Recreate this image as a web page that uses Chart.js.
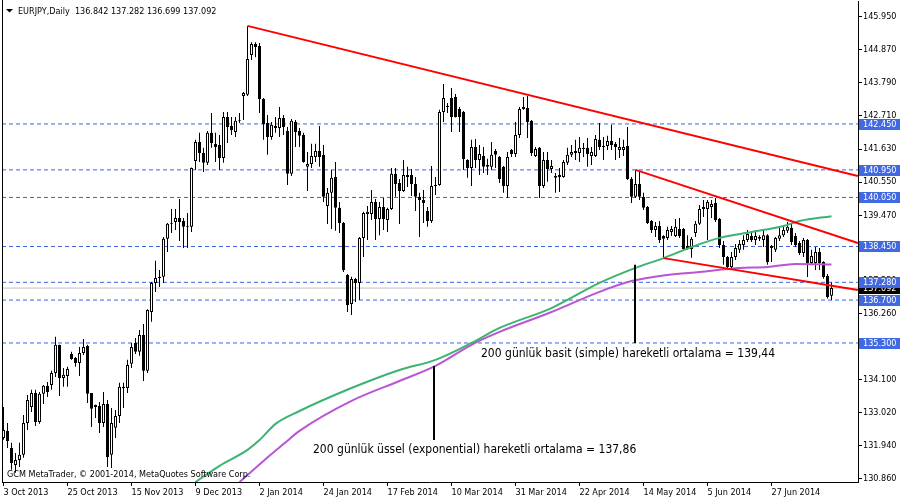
<!DOCTYPE html>
<html>
<head>
<meta charset="utf-8">
<script src="https://cdn.jsdelivr.net/npm/chart.js@4.4.0/dist/chart.umd.min.js"></script>
<style>
  html, body { margin: 0; padding: 0; background: #fff; }
  #wrap { width: 900px; height: 500px; }
</style>
</head>
<body>
<div id="wrap"><canvas id="c" width="900" height="500"></canvas></div>
<script>
// EURJPY günlük mumlar (okunan değerler)
const opens = [
  132.20,132.43,131.87,131.32,131.48,131.65,132.69,133.21,133.67,132.72,
  133.64,133.90,133.93,134.32,135.24,134.16,134.22,134.94,134.81,134.65,
  134.97,135.20,133.67,133.28,133.24,132.69,133.31,131.65,132.53,132.92,
  133.83,133.83,134.62,135.30,135.01,135.56,134.39,136.31,137.26,137.42,
  137.46,138.70,139.19,139.25,139.38,139.28,139.12,139.09,141.24,141.86,
  141.50,141.18,142.16,141.80,141.76,141.34,142.68,142.38,142.19,142.55,
  143.36,143.40,144.70,145.06,144.99,143.26,142.48,142.02,142.38,142.32,
  142.64,142.22,140.82,142.51,142.22,142.09,141.05,141.14,141.37,141.57,
  141.44,139.77,140.20,140.72,139.71,139.22,137.52,136.57,137.39,137.26,
  138.73,139.51,139.51,139.90,139.35,139.74,139.31,139.67,140.82,140.52,
  140.26,140.72,140.78,140.49,140.07,139.97,139.61,139.28,140.42,140.46,
  142.84,143.00,143.30,143.33,142.94,142.84,141.27,141.01,141.70,141.27,
  141.40,141.11,141.05,141.57,141.37,141.05,140.42,141.60,141.47,142.09,
  142.94,142.97,142.55,141.40,141.67,140.42,141.27,140.98,140.69,140.72,
  140.72,141.18,141.44,141.50,141.50,141.63,141.67,141.40,141.40,141.93,
  141.73,141.73,141.89,141.80,141.60,141.60,141.73,140.65,140.07,140.49,
  140.07,139.74,139.28,138.99,139.12,138.79,138.73,138.92,138.79,139.02,
  139.02,138.47,138.37,138.89,139.19,139.67,139.67,139.74,139.87,139.35,
  138.50,138.11,137.78,138.11,138.34,138.50,138.66,138.79,138.66,138.76,
  138.66,138.82,138.47,138.34,138.70,138.82,138.96,139.05,138.79,138.56,
  138.24,138.66,137.91,137.91,138.27,137.94,137.49,136.842
];
const highs = [
  133.21,132.69,132.04,131.71,132.04,132.95,133.60,133.77,133.77,133.70,
  133.93,134.03,134.39,135.50,135.24,134.48,134.52,135.01,134.84,135.17,
  135.43,135.24,133.67,133.28,133.37,133.70,133.44,133.18,133.11,134.00,
  134.00,134.75,135.30,135.46,135.72,135.92,136.40,137.29,137.98,137.68,
  138.76,139.22,139.67,139.67,140.00,139.38,139.54,141.03,141.93,142.16,
  141.67,142.22,142.81,142.16,142.09,142.84,142.84,142.68,142.68,142.81,
  143.49,145.65,145.12,145.12,145.09,143.30,142.74,142.51,142.68,143.00,
  142.74,142.35,142.61,142.58,142.32,142.16,141.53,141.80,141.80,142.38,
  141.76,140.36,140.95,141.21,139.90,139.25,137.55,137.46,137.42,138.76,
  139.58,139.77,140.29,140.00,139.90,140.03,139.71,141.01,141.01,140.65,
  141.27,141.05,140.98,140.72,140.20,140.29,139.74,141.08,140.72,142.91,
  143.75,143.13,143.62,143.43,143.00,142.87,141.30,141.93,141.96,141.76,
  141.70,141.31,141.86,141.63,141.40,141.08,141.53,141.63,142.51,143.00,
  143.33,143.36,142.58,141.70,141.70,141.53,141.53,141.27,140.85,141.01,
  141.27,141.67,141.76,141.93,142.02,141.83,141.99,141.70,142.09,142.48,
  142.02,142.06,142.42,141.86,141.99,141.93,142.35,140.72,140.95,140.88,
  140.20,139.77,139.31,139.25,139.28,138.82,139.09,139.12,139.35,139.38,
  139.05,138.82,138.76,139.28,139.80,139.97,139.97,139.97,140.03,139.38,
  138.63,138.14,138.27,138.53,138.66,138.82,138.99,138.92,138.99,138.82,
  138.99,138.85,138.50,138.76,139.05,139.15,139.25,139.22,138.89,138.63,
  138.73,138.69,138.34,138.43,138.40,137.97,137.55,137.282
];
const lows = [
  132.14,131.87,131.16,131.06,131.25,131.55,132.46,133.05,132.59,132.66,
  133.31,133.54,133.77,134.19,133.57,133.87,133.87,134.75,134.52,134.22,
  134.91,133.34,132.56,132.85,132.36,132.56,131.25,131.22,132.20,132.69,
  133.18,133.67,134.48,134.94,134.88,134.06,134.32,135.99,136.96,137.13,
  137.26,138.27,138.89,138.99,138.63,138.40,138.40,138.92,140.95,141.21,
  140.88,141.11,141.67,141.21,140.95,141.18,141.83,142.09,142.02,142.48,
  142.58,143.36,144.54,144.63,142.81,141.93,141.44,141.93,142.16,142.02,
  142.09,140.46,140.75,141.70,141.70,141.18,140.26,141.01,141.21,141.05,
  139.90,139.18,139.02,138.96,138.89,137.62,136.31,136.21,136.64,136.70,
  138.11,138.66,139.31,138.66,138.82,138.99,138.92,139.64,140.07,139.18,
  140.23,140.39,140.10,139.61,138.76,139.22,139.09,139.22,140.13,140.43,
  142.51,142.81,142.19,142.66,142.19,140.95,140.69,140.42,141.01,140.78,
  140.85,140.78,140.95,141.01,140.52,140.20,140.03,141.37,141.37,141.99,
  142.91,141.99,141.40,141.37,140.03,140.36,140.56,140.85,140.20,140.23,
  140.69,141.11,141.37,141.27,141.21,141.37,141.05,141.11,141.37,141.60,
  141.27,141.60,141.60,141.27,141.34,141.40,140.62,139.87,140.03,139.97,
  139.64,139.18,138.89,138.76,138.56,138.11,138.66,138.79,138.76,138.73,
  138.34,138.34,138.08,138.76,139.15,139.41,138.66,139.38,139.25,138.40,
  137.85,137.68,137.75,138.01,138.24,138.34,138.60,138.60,138.50,138.63,
  138.43,137.85,137.94,138.27,138.63,138.76,138.89,138.50,138.43,138.17,
  138.11,137.45,137.85,137.68,137.68,137.40,136.75,136.699
];
const closes = [
  132.46,132.10,131.38,131.48,131.65,132.69,133.44,133.67,132.72,133.64,
  133.90,133.70,134.32,135.24,134.16,134.26,134.45,134.78,134.65,134.97,
  135.17,133.64,133.15,133.21,132.69,133.31,131.58,132.69,132.92,133.87,
  133.87,134.58,135.17,135.01,135.56,134.39,136.38,137.26,137.42,137.46,
  138.70,139.19,139.21,139.38,139.25,139.09,139.09,141.01,141.86,141.50,
  141.18,142.16,141.83,141.70,141.34,142.68,142.35,142.25,142.55,142.58,
  143.46,144.57,145.06,144.96,143.26,142.45,142.02,142.42,142.32,142.64,
  142.35,140.82,142.55,142.19,142.06,141.21,141.14,141.40,141.57,141.37,
  140.07,140.20,140.69,139.71,139.22,137.68,136.54,137.39,137.26,138.73,
  139.54,139.58,139.90,139.35,139.74,139.35,139.67,140.82,140.49,140.26,
  140.78,140.78,140.49,140.07,139.97,139.87,139.28,140.42,140.46,142.84,
  143.30,143.04,142.68,142.68,142.68,141.30,141.01,141.70,141.27,141.47,
  141.05,141.05,141.44,141.44,140.65,140.42,141.37,141.47,142.09,142.94,
  143.00,142.51,141.50,141.63,140.42,141.27,140.98,141.08,140.75,140.78,
  141.21,141.44,141.53,141.57,141.67,141.67,141.47,141.53,141.96,141.70,
  141.70,141.89,141.76,141.70,141.70,141.70,140.65,140.07,140.49,140.07,
  139.71,139.22,138.99,139.12,138.66,138.70,138.99,139.02,139.09,138.79,
  138.37,138.37,138.70,139.19,139.67,139.74,139.90,139.84,139.31,138.50,
  138.11,137.78,138.11,138.40,138.53,138.66,138.86,138.66,138.79,138.70,
  138.82,137.94,138.40,138.73,138.82,138.99,139.09,138.60,138.50,138.24,
  138.66,137.91,138.14,138.27,137.91,137.45,136.80,137.092
];

// tarih etiketleri (mum sırası -> etiket)
const dateTicks = [0, 16, 32, 48, 64, 80, 96, 112, 128, 144, 160, 176, 192];
const dateLabels = ['3 Oct 2013', '25 Oct 2013', '15 Nov 2013', '9 Dec 2013', '2 Jan 2014', '24 Jan 2014',
  '17 Feb 2014', '10 Mar 2014', '31 Mar 2014', '22 Apr 2014', '14 May 2014', '5 Jun 2014', '27 Jun 2014'];

// fiyat ekseni etiketleri
const priceTicks = [145.95, 144.87, 143.79, 142.71, 141.63, 140.55, 139.47, 138.39, 137.33, 136.26, 135.18, 134.10, 133.02, 131.94, 130.86];

// yatay seviyeler ve son fiyat
const levels = [142.45, 140.95, 140.05, 138.45, 137.28, 136.70, 135.30];
const bid = 137.092;

// 200 günlük basit ortalama (yeşil) ve üssel ortalama (mor)
const smaIdx = [48, 54, 61, 64, 68, 74, 87, 99, 108, 117, 124, 137, 149, 158, 165, 172, 179, 187, 195, 199, 207];
const smaVal = [130.76, 131.29, 131.81, 132.13, 132.66, 133.08, 133.83, 134.42, 134.75, 135.30, 135.79, 136.44, 137.26, 137.75, 138.07, 138.43, 138.73, 138.92, 139.12, 139.28, 139.44];
const emaIdx = [59, 65, 70, 74, 87, 99, 108, 117, 124, 137, 149, 157, 166, 174, 184, 191, 198, 207];
const emaVal = [130.76, 131.45, 132.00, 132.43, 133.41, 134.06, 134.55, 135.24, 135.66, 136.31, 136.97, 137.32, 137.52, 137.62, 137.75, 137.78, 137.88, 137.86];

// trend çizgileri [başlangıç, bitiş] = [mum, fiyat]
const trendTop = [[61, 145.65], [213.6, 140.75]];
const trendMid = [[158, 140.95], [213.6, 138.56]];
const trendLow = [[165, 138.07], [213.6, 137.03]];

// açıklama çizgileri
const noteSma = [[157.875, 137.85], [157.875, 135.30]];
const noteEma = [[107.625, 134.55], [107.625, 132.13]];

const X_MIN = -0.375, X_MAX = 213.625;
const Y_MIN = 130.762, Y_MAX = 146.4625;
const FONT = "'DejaVu Sans Condensed', 'DejaVu Sans', sans-serif";

Chart.defaults.font.family = FONT;
Chart.defaults.font.size = 9;
Chart.defaults.color = '#000';

const toXY = arr => arr.map(p => ({ x: p[0], y: p[1] }));
const flat = v => [{ x: X_MIN, y: v }, { x: X_MAX, y: v }];
const idx = opens.map((_, i) => i);

const lineDs = (data, color, width, order, extra) => Object.assign({
  type: 'line', data: data, borderColor: color, borderWidth: width,
  pointRadius: 0, fill: false, order: order
}, extra || {});

const datasets = [];
levels.forEach(v => datasets.push(lineDs(flat(v), '#3b64e4', 1, 30, { borderDash: [4, 3] })));
datasets.push(lineDs(flat(bid), '#c0c0c0', 1, 29));

datasets.push({
  type: 'bar',
  data: idx.map(i => ({ x: i, y: [lows[i], highs[i]] })),
  backgroundColor: '#000',
  barThickness: 1, maxBarThickness: 1,
  grouped: false, inflateAmount: 0, order: 20
});
datasets.push({
  type: 'bar',
  data: idx.map(i => ({ x: i, y: [opens[i], closes[i]] })),
  backgroundColor: c => closes[c.dataIndex] >= opens[c.dataIndex] ? '#fff' : '#000',
  borderColor: '#000', borderWidth: 1, borderSkipped: false,
  barThickness: 3, maxBarThickness: 3, minBarLength: 1,
  grouped: false, inflateAmount: 0, order: 19
});

datasets.push(lineDs(smaIdx.map((x, k) => ({ x: x, y: smaVal[k] })), '#3cb371', 2, 10, { cubicInterpolationMode: 'monotone' }));
datasets.push(lineDs(emaIdx.map((x, k) => ({ x: x, y: emaVal[k] })), '#ba55d3', 2, 11, { cubicInterpolationMode: 'monotone' }));

[trendTop, trendMid, trendLow].forEach(t => datasets.push(lineDs(toXY(t), '#ff0000', 2, 5)));
[noteSma, noteEma].forEach(t => datasets.push(lineDs(toXY(t), '#000', 2, 4)));

// çerçeve, seviye etiketleri ve yazılar
const overlay = {
  id: 'overlay',
  afterDraw(chart) {
    const { ctx, chartArea: a, scales: { y } } = chart;
    ctx.save();
    ctx.strokeStyle = '#000';
    ctx.lineWidth = 1;
    ctx.beginPath();
    ctx.moveTo(a.left + 0.5, 0);
    ctx.lineTo(a.left + 0.5, a.bottom);
    ctx.stroke();

    ctx.font = '9px ' + FONT;
    ctx.textBaseline = 'middle';
    ctx.textAlign = 'left';
    const box = (v, bg) => {
      const py = Math.round(y.getPixelForValue(v));
      ctx.fillStyle = bg;
      ctx.fillRect(a.right + 1, py - 5, 42, 11);
      ctx.fillStyle = '#fff';
      ctx.fillText(v.toFixed(3), a.right + 5, py + 0.5);
    };
    box(bid, '#000');
    levels.forEach(v => box(v, '#4169e1'));

    ctx.fillStyle = '#000';
    ctx.textBaseline = 'alphabetic';
    ctx.fillText('EURJPY,Daily  136.842 137.282 136.699 137.092', 18, 14);
    ctx.fillText('GCM MetaTrader, \u00a9 2001-2014, MetaQuotes Software Corp.', 7, 477);
    ctx.beginPath();
    ctx.moveTo(6, 9); ctx.lineTo(13, 9); ctx.lineTo(9.5, 12.5); ctx.closePath();
    ctx.fill();

    ctx.font = '12px ' + FONT;
    ctx.fillText('200 günlük basit (simple) hareketli ortalama = 139,44', 481, 357);
    ctx.fillText('200 günlük üssel (exponential) hareketli ortalama = 137,86', 313, 453);
    ctx.restore();
  }
};

new Chart(document.getElementById('c'), {
  type: 'bar',
  data: { datasets: datasets },
  options: {
    responsive: false,
    animation: false,
    events: [],
    layout: { padding: { left: 2, top: 1, right: 0, bottom: 0 } },
    plugins: { legend: { display: false }, tooltip: { enabled: false } },
    scales: {
      x: {
        type: 'linear', min: X_MIN, max: X_MAX, offset: false,
        afterBuildTicks: s => { s.ticks = dateTicks.map(v => ({ value: v })); },
        afterFit: s => { s.height = 18; s.paddingLeft = 0; s.paddingRight = 0; },
        ticks: {
          autoSkip: false, maxRotation: 0, minRotation: 0, align: 'start', padding: 1,
          callback: v => dateLabels[dateTicks.indexOf(v)]
        },
        grid: { drawOnChartArea: false, drawTicks: true, tickLength: 4, color: '#000', offset: false },
        border: { display: true, color: '#000' }
      },
      y: {
        type: 'linear', position: 'right', min: Y_MIN, max: Y_MAX,
        afterBuildTicks: s => { s.ticks = priceTicks.map(v => ({ value: v })); },
        afterFit: s => { s.width = 42; s.paddingTop = 0; s.paddingBottom = 0; },
        ticks: { autoSkip: false, padding: 1, callback: v => Number(v).toFixed(3) },
        grid: { drawOnChartArea: false, drawTicks: true, tickLength: 4, color: '#000' },
        border: { display: true, color: '#000' }
      }
    }
  },
  plugins: [overlay]
});
</script>
</body>
</html>
